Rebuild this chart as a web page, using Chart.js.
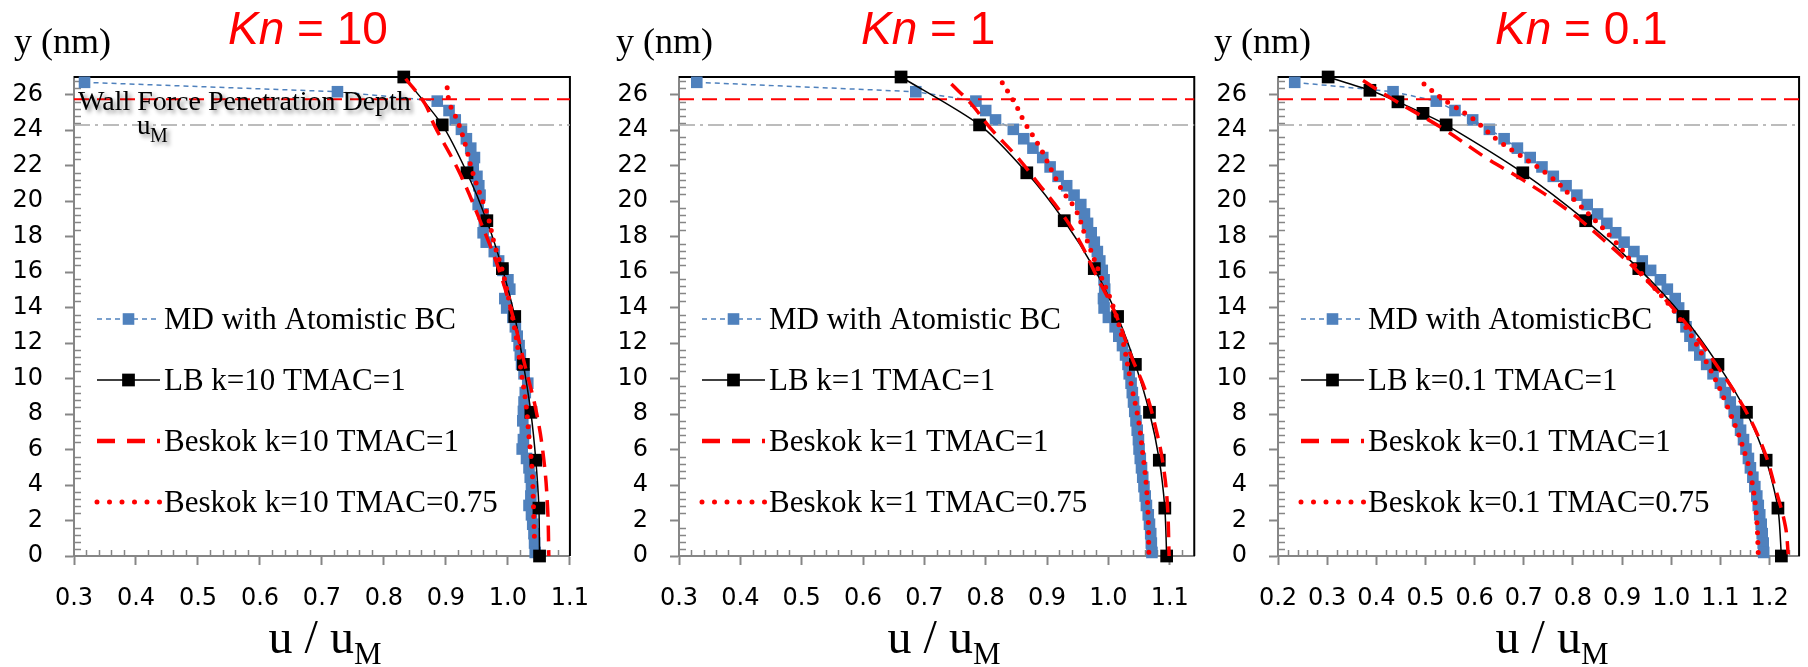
<!DOCTYPE html>
<html>
<head>
<meta charset="utf-8">
<script src="https://cdn.jsdelivr.net/npm/chart.js@4.4.1/dist/chart.umd.min.js"></script>
<style>
  html, body { margin: 0; padding: 0; background: #fff; }
  #wrap { position: relative; width: 1808px; height: 667px; overflow: hidden; background: #fff; }
  canvas { position: absolute; top: 0; }
</style>
</head>
<body>
<div id="wrap">
  <canvas id="kn10" width="608" height="667" style="left:0px"></canvas>
  <canvas id="kn1" width="600" height="667" style="left:608px"></canvas>
  <canvas id="kn01" width="600" height="667" style="left:1208px"></canvas>
</div>
<script>
// ---- values ----
const yTicks = [0, 2, 4, 6, 8, 10, 12, 14, 16, 18, 20, 22, 24, 26];
const xTicksKn10 = [0.3, 0.4, 0.5, 0.6, 0.7, 0.8, 0.9, 1.0, 1.1];
const xTicksKn1 = [0.3, 0.4, 0.5, 0.6, 0.7, 0.8, 0.9, 1.0, 1.1];
const xTicksKn01 = [0.2, 0.3, 0.4, 0.5, 0.6, 0.7, 0.8, 0.9, 1.0, 1.1, 1.2];

// MD bins (y, nm)
const mdY = [26.70, 26.17, 25.64, 25.11, 24.58, 24.05, 23.52, 22.99, 22.46, 21.93,
  21.40, 20.87, 20.34, 19.81, 19.28, 18.75, 18.22, 17.69, 17.16, 16.63,
  16.10, 15.57, 15.04, 14.51, 13.98, 13.45, 12.92, 12.39, 11.86, 11.33,
  10.80, 10.27, 9.74, 9.21, 8.68, 8.15, 7.62, 7.09, 6.56, 6.03,
  5.50, 4.97, 4.44, 3.91, 3.38, 2.85, 2.32, 1.79, 1.26, 0.73,
  0.20];
const mdKn10 = [0.317, 0.725, 0.886, 0.905, 0.915, 0.925, 0.933, 0.940, 0.946, 0.944,
  0.950, 0.953, 0.955, 0.952, 0.960, 0.962, 0.960, 0.965, 0.978, 0.985,
  0.992, 1.000, 1.003, 0.995, 0.998, 1.008, 1.012, 1.015, 1.018, 1.020,
  1.022, 1.026, 1.032, 1.028, 1.026, 1.025, 1.024, 1.028, 1.025, 1.023,
  1.030, 1.034, 1.036, 1.038, 1.037, 1.034, 1.038, 1.040, 1.042, 1.043,
  1.044];
const mdKn1 = [0.329, 0.686, 0.784, 0.800, 0.816, 0.845, 0.862, 0.877, 0.893, 0.905,
  0.918, 0.932, 0.944, 0.955, 0.961, 0.966, 0.972, 0.977, 0.982, 0.986,
  0.990, 0.993, 0.994, 0.992, 0.993, 1.000, 1.011, 1.017, 1.023, 1.028,
  1.032, 1.034, 1.037, 1.039, 1.041, 1.043, 1.045, 1.047, 1.049, 1.050,
  1.052, 1.054, 1.056, 1.058, 1.060, 1.062, 1.065, 1.067, 1.069, 1.070,
  1.071];
const mdKn01 = [0.234, 0.434, 0.522, 0.560, 0.596, 0.630, 0.660, 0.687, 0.713, 0.737,
  0.760, 0.786, 0.808, 0.829, 0.850, 0.869, 0.887, 0.904, 0.924, 0.941,
  0.958, 0.978, 0.992, 1.008, 1.015, 1.022, 1.030, 1.038, 1.046, 1.058,
  1.072, 1.085, 1.100, 1.110, 1.120, 1.128, 1.135, 1.141, 1.147, 1.152,
  1.157, 1.161, 1.166, 1.170, 1.174, 1.177, 1.180, 1.183, 1.185, 1.187,
  1.188];

// LB nodes
const lbY = [27, 24.3, 21.6, 18.9, 16.2, 13.5, 10.8, 8.1, 5.4, 2.7, 0];
const lbKn10 = [0.832, 0.894, 0.934, 0.966, 0.991, 1.011, 1.025, 1.037, 1.045, 1.050, 1.051];
const lbKn1 = [0.662, 0.790, 0.867, 0.928, 0.977, 1.015, 1.044, 1.067, 1.083, 1.092, 1.095];
const lbYKn01 = [27, 26.25, 25.6, 24.95, 24.3, 21.6, 18.9, 16.2, 13.5, 10.8, 8.1, 5.4, 2.7, 0];
const lbKn01 = [0.302, 0.387, 0.444, 0.495, 0.542, 0.698, 0.826, 0.934, 1.024, 1.095, 1.153, 1.193, 1.217, 1.224];

// Beskok, TMAC = 1
const bkY10 = [26.9, 25.5, 24.3, 21.6, 18.9, 16.2, 13.5, 10.8, 8.1, 5.4, 2.7, 0];
const bkKn10 = [0.835, 0.866, 0.881, 0.922, 0.955, 0.985, 1.008, 1.027, 1.046, 1.058, 1.064, 1.066];
const bkY1 = [26.6, 25.5, 24.1, 22.5, 20.9, 19.5, 17.8, 15.7, 13.7, 11.2, 9.35, 7.1, 5.2, 3.0, 0];
const bkKn1 = [0.744, 0.776, 0.808, 0.851, 0.888, 0.920, 0.952, 0.982, 1.011, 1.038, 1.060, 1.078, 1.089, 1.096, 1.099];
const bkY01 = [26.8, 25.7, 24.1, 22.5, 21.2, 19.5, 17.8, 15.9, 13.5, 11.0, 8.4, 6.0, 3.9, 1.7, 0.1];
const bkKn01 = [0.373, 0.436, 0.535, 0.620, 0.698, 0.789, 0.863, 0.937, 1.018, 1.086, 1.147, 1.188, 1.211, 1.232, 1.238];

// Beskok, TMAC = 0.75
const bk75Y10 = [26.4, 25.5, 24.5, 23.1, 21.75, 20.4, 19.1, 17.6, 16.1, 14.2, 12.4, 10.5, 8.6, 6.7, 4.85, 3.0, 0.7];
const bk75Kn10 = [0.902, 0.906, 0.919, 0.932, 0.942, 0.955, 0.968, 0.978, 0.991, 1.003, 1.013, 1.021, 1.029, 1.034, 1.039, 1.041, 1.043];
const bk75Y1 = [26.67, 26.07, 25.5, 24.4, 23.8, 22.87, 21.56, 20.53, 19.5, 18.0, 16.1, 14.24, 12.36, 9.54, 7.66, 5.79, 3.91, 2.03, 0.1];
const bk75Kn1 = [0.827, 0.838, 0.848, 0.864, 0.875, 0.891, 0.910, 0.926, 0.947, 0.963, 0.984, 1.006, 1.022, 1.038, 1.049, 1.056, 1.062, 1.065, 1.066];
const bk75Y01 = [26.6, 25.84, 25.4, 24.66, 23.44, 21.37, 19.87, 18.0, 16.1, 13.58, 10.85, 8.04, 5.41, 3.72, 1.97, 0.1];
const bk75Kn01 = [0.497, 0.531, 0.555, 0.596, 0.647, 0.755, 0.810, 0.877, 0.934, 1.012, 1.073, 1.120, 1.154, 1.167, 1.174, 1.177];

// reference levels
const wallDepthY = 25.75;
const uMaxY = 24.3;

// ---- styling ----
const MD_BLUE = '#4F81BD';
const RED = '#FF0000';
const AXIS_GRAY = '#868686';
const legendRowY = [319, 380, 441, 502];

function toXY(us, ys) {
	return us.map((u, i) => ({ x: u, y: ys[i] }));
}

/**
 * Minor ticks, black frame, titles, in-plot legend
 */
const panelDecor = {
	id: "panelDecor",
	beforeDatasetsDraw(chart, args, o) {
		const { ctx, chartArea: a, scales } = chart;
		const x = scales.x;
		const y = scales.y;
		ctx.save();
		ctx.strokeStyle = AXIS_GRAY;
		ctx.lineWidth = 1.5;
		ctx.beginPath();
		// y minor ticks every 0.4, pointing inside
		for (let i = 1; i * 0.4 < 27; i++) {
			const v = i * 0.4;
			if (Math.abs(v / 2 - Math.round(v / 2)) < 1e-6) continue;
			const py = Math.round(y.getPixelForValue(v)) + 0.5;
			ctx.moveTo(a.left, py);
			ctx.lineTo(a.left + 7, py);
		}
		// x minor ticks every 0.02
		const n = Math.round((x.max - x.min) / 0.02);
		for (let i = 1; i < n; i++) {
			if (i % 5 === 0) continue;
			const px = Math.round(x.getPixelForValue(x.min + i * 0.02)) + 0.5;
			ctx.moveTo(px, a.bottom);
			ctx.lineTo(px, a.bottom - 6);
		}
		ctx.stroke();

		// black top / right frame
		ctx.strokeStyle = "#000";
		ctx.lineWidth = 2;
		ctx.beginPath();
		ctx.moveTo(a.left, a.top);
		ctx.lineTo(a.right, a.top);
		ctx.lineTo(a.right, a.bottom);
		ctx.stroke();
		ctx.restore();
	},
	afterDraw(chart, args, o) {
		const { ctx, chartArea: a } = chart;
		ctx.save();
		ctx.textBaseline = "alphabetic";

		// title: Kn = ...
		ctx.fillStyle = RED;
		ctx.font = 'italic 46px "Liberation Sans"';
		let tx = o.titleX;
		ctx.fillText("Kn", tx, 44);
		tx += ctx.measureText("Kn").width;
		ctx.font = '46px "Liberation Sans"';
		ctx.fillText(" = " + o.kn, tx, 44);

		// y axis title
		ctx.fillStyle = "#000";
		ctx.font = '36px "Liberation Serif"';
		ctx.fillText("y (nm)", o.yTitleX, 53);

		// x axis title u / uM
		ctx.font = '48px "Liberation Serif"';
		const w1 = ctx.measureText("u / u").width;
		ctx.font = '31px "Liberation Serif"';
		const w2 = ctx.measureText("M").width;
		const sx = o.xTitleX - (w1 + w2) / 2;
		ctx.font = '48px "Liberation Serif"';
		ctx.fillText("u / u", sx, 653);
		ctx.font = '31px "Liberation Serif"';
		ctx.fillText("M", sx + w1, 664);

		// annotation (first panel only)
		if (o.note) {
			ctx.save();
			ctx.shadowColor = "rgba(0,0,0,0.45)";
			ctx.shadowBlur = 4;
			ctx.shadowOffsetX = 3;
			ctx.shadowOffsetY = 3;
			ctx.font = '28px "Liberation Serif"';
			ctx.fillText("Wall Force Penetration Depth", a.left + 4, 110);
			ctx.font = '27px "Liberation Serif"';
			ctx.fillText("u", a.left + 63, 134);
			ctx.font = '20px "Liberation Serif"';
			ctx.fillText("M", a.left + 76, 142);
			ctx.restore();
		}

		// legend
		const x0 = a.left + 23;
		const x1 = a.left + 86;
		chart.data.datasets.forEach((ds) => {
			if (ds.legendRow === undefined) return;
			const ly = legendRowY[ds.legendRow];
			ctx.save();
			ctx.strokeStyle = ds.borderColor;
			ctx.lineWidth = ds.legendWidth || ds.borderWidth;
			ctx.lineCap = ds.borderCapStyle || "butt";
			ctx.setLineDash(ds.legendDash || ds.borderDash || []);
			ctx.beginPath();
			ctx.moveTo(x0, ly);
			ctx.lineTo(x1, ly);
			ctx.stroke();
			if (ds.pointRadius > 0) {
				const s = ds.pointRadius * Math.SQRT1_2;
				ctx.fillStyle = ds.pointBackgroundColor;
				ctx.fillRect((x0 + x1) / 2 - s, ly - s, 2 * s, 2 * s);
			}
			ctx.restore();
			ctx.fillStyle = "#000";
			ctx.font = '31px "Liberation Serif"';
			ctx.fillText(ds.label, a.left + 90, ly + 10);
		});
		ctx.restore();
	},
};

function makePanel(id, p) {
	const datasets = [
		{
			label: p.mdLabel,
			data: toXY(p.md, mdY),
			showLine: true,
			borderColor: MD_BLUE,
			borderWidth: 1.5,
			borderDash: [5, 4],
			pointStyle: "rect",
			pointRadius: 8.2,
			pointBackgroundColor: MD_BLUE,
			pointBorderWidth: 0,
			order: 6,
			legendRow: 0,
		},
		{
			label: "",
			data: [{ x: p.xMin, y: wallDepthY }, { x: p.xMax, y: wallDepthY }],
			showLine: true,
			borderColor: RED,
			borderWidth: 2,
			borderDash: [15, 8],
			pointRadius: 0,
			order: 5,
		},
		{
			label: "",
			data: [{ x: p.xMin, y: uMaxY }, { x: p.xMax, y: uMaxY }],
			showLine: true,
			borderColor: "#A6A6A6",
			borderWidth: 1.5,
			borderDash: [16, 5, 3, 5],
			pointRadius: 0,
			order: 5,
		},
		{
			label: "LB k=" + p.kn + " TMAC=1",
			data: toXY(p.lb, p.lbY),
			showLine: true,
			borderColor: "#000",
			borderWidth: 1.5,
			tension: 0.25,
			pointStyle: "rect",
			pointRadius: 9,
			pointBackgroundColor: "#000",
			pointBorderWidth: 0,
			order: 3,
			legendRow: 1,
		},
		{
			label: "Beskok k=" + p.kn + " TMAC=1",
			data: toXY(p.bk, p.bkY),
			showLine: true,
			borderColor: RED,
			borderWidth: 3.5,
			borderDash: [16, 9],
			legendWidth: 4.5,
			legendDash: [18, 12],
			tension: 0.4,
			pointRadius: 0,
			order: 2,
			legendRow: 2,
		},
		{
			label: "Beskok k=" + p.kn + " TMAC=0.75",
			data: toXY(p.bk75, p.bk75Y),
			showLine: true,
			borderColor: RED,
			borderWidth: 5,
			borderDash: [0, 10],
			borderCapStyle: "round",
			legendDash: [0, 12.5],
			tension: 0.4,
			pointRadius: 0,
			order: 1,
			legendRow: 3,
		},
	];
	datasets.forEach((d) => (d.clip = false));

	return new Chart(document.getElementById(id), {
		type: "scatter",
		data: { datasets: datasets },
		plugins: [panelDecor],
		options: {
			responsive: false,
			animation: false,
			events: [],
			devicePixelRatio: 1,
			layout: {
				autoPadding: false,
				padding: { top: 77, right: p.rightPad, bottom: 0, left: 0 },
			},
			plugins: {
				legend: { display: false },
				tooltip: { enabled: false },
				panelDecor: {
					kn: p.kn,
					titleX: p.titleX,
					yTitleX: p.yTitleX,
					xTitleX: p.xTitleX,
					note: p.note,
				},
			},
			scales: {
				x: {
					type: "linear",
					position: "bottom",
					min: p.xMin,
					max: p.xMax,
					afterBuildTicks: (s) => {
						s.ticks = p.xTicks.map((v) => ({ value: v }));
					},
					afterFit: (s) => {
						s.height = 111;
					},
					ticks: {
						font: { family: "DejaVu Sans", size: 24 },
						color: "#000",
						padding: 19,
						maxRotation: 0,
						autoSkip: false,
						callback: (v) => v.toFixed(1),
					},
					grid: {
						drawOnChartArea: false,
						drawTicks: true,
						tickLength: 9,
						tickWidth: 2,
						tickColor: AXIS_GRAY,
						color: AXIS_GRAY,
					},
					border: { display: true, color: AXIS_GRAY, width: 2 },
				},
				y: {
					type: "linear",
					position: "left",
					min: 0,
					max: 27,
					afterBuildTicks: (s) => {
						s.ticks = yTicks.map((v) => ({ value: v }));
					},
					afterFit: (s) => {
						s.width = p.leftW;
					},
					ticks: {
						font: { family: "DejaVu Sans", size: 24 },
						color: "#000",
						padding: 22,
						autoSkip: false,
						callback: (v) => String(v),
					},
					grid: {
						drawOnChartArea: false,
						drawTicks: true,
						tickLength: 9,
						tickWidth: 2,
						tickColor: AXIS_GRAY,
						color: AXIS_GRAY,
					},
					border: { display: true, color: AXIS_GRAY, width: 2 },
				},
			},
		},
	});
}

makePanel("kn10", {
	kn: "10", mdLabel: "MD with Atomistic BC",
	md: mdKn10, lb: lbKn10, lbY: lbY,
	bk: bkKn10, bkY: bkY10, bk75: bk75Kn10, bk75Y: bk75Y10,
	xMin: 0.3, xMax: 1.1, xTicks: xTicksKn10,
	leftW: 74, rightPad: 11,
	titleX: 228, yTitleX: 14, xTitleX: 325, note: true,
});
makePanel("kn1", {
	kn: "1", mdLabel: "MD with Atomistic BC",
	md: mdKn1, lb: lbKn1, lbY: lbY,
	bk: bkKn1, bkY: bkY1, bk75: bk75Kn1, bk75Y: bk75Y1,
	xMin: 0.3, xMax: 1.14, xTicks: xTicksKn1,
	leftW: 71, rightPad: 4,
	titleX: 253, yTitleX: 8, xTitleX: 336, note: false,
});
makePanel("kn01", {
	kn: "0.1", mdLabel: "MD with AtomisticBC",
	md: mdKn01, lb: lbKn01, lbY: lbYKn01,
	bk: bkKn01, bkY: bkY01, bk75: bk75Kn01, bk75Y: bk75Y01,
	xMin: 0.2, xMax: 1.26, xTicks: xTicksKn01,
	leftW: 70, rightPad: 6,
	titleX: 287, yTitleX: 6, xTitleX: 344, note: false,
});
</script>
</body>
</html>
